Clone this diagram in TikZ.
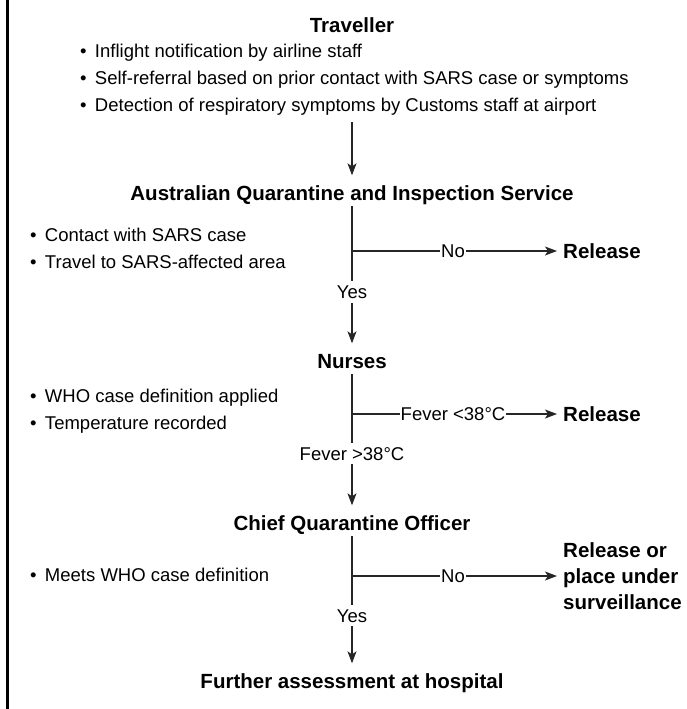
\documentclass[tikz,border=0pt]{standalone}
\usepackage{fontspec}
\setmainfont{Liberation Sans}
\usepackage{tikz}
\usetikzlibrary{arrows.meta}
\usetikzlibrary{positioning}

\newcommand{\blt}{\textbullet\hspace{0.45em}}

\begin{document}
\begin{tikzpicture}[x=1pt,y=-1pt,every path/.style={>={Stealth[length=12pt,width=9pt,inset=3pt]}},
		title/.style={font=\bfseries\fontsize{20.5}{24}\selectfont,inner xsep=0pt,inner ysep=0pt,text height=14.5pt,text depth=4pt},
		list/.style={font=\fontsize{18.5}{27}\selectfont,align=left,inner sep=0pt,anchor=west},
		lab/.style={font=\fontsize{18.5}{22}\selectfont,inner xsep=1pt,inner ysep=4pt,text height=13pt,text depth=0pt},
		outcome/.style={font=\bfseries\fontsize{20.5}{26}\selectfont,align=left,inner xsep=6pt,inner ysep=0pt,anchor=west},
		flow/.style={line width=1.1pt,draw=black!85}]
		\useasboundingbox (0,0) rectangle (686,709);
		
		% frame line on the left
		\draw[line width=2.4pt] (7.3,0) -- (7.3,709);
		
		% traveller
		\node[title] (trav) at (352,27.75) {Traveller};
		\node[list] (travlist) at (80,80) {\blt Inflight notification by airline staff\\
			\blt Self-referral based on prior contact with SARS case or symptoms\\
			\blt Detection of respiratory symptoms by Customs staff at airport};
		
		% quarantine service
		\node[title] (aqis) at (352,194.75) {Australian Quarantine and Inspection Service};
		\node[list] (aqislist) at (30,248.5) {\blt Contact with SARS case\\ \blt Travel to SARS-affected area};
		\coordinate (aqisfork) at (352,251);
		\node[lab] (aqisno) at (453,251) {No};
		\node[outcome] (rel1) at (557,251) {Release};
		\node[lab] (aqisyes) at (352,292) {Yes};
		
		% nurses
		\node[title] (nurses) at (352,362.75) {Nurses};
		\node[list] (nurselist) at (30,411.5) {\blt WHO case definition applied\\ \blt Temperature recorded};
		\coordinate (nursefork) at (352,414);
		\node[lab] (feverlo) at (453,414) {Fever <38°C};
		\node[outcome] (rel2) at (557,414) {Release};
		\node[lab] (feverhi) at (352,453.5) {Fever >38°C};
		
		% chief quarantine officer
		\node[title] (chief) at (352,524.75) {Chief Quarantine Officer};
		\node[list] (chieflist) at (30,575) {\blt Meets WHO case definition};
		\coordinate (chieffork) at (352,576);
		\node[lab] (chiefno) at (453,576) {No};
		\node[outcome] (rel3) at (557,576) {Release or\\place under\\surveillance};
		\node[lab] (chiefyes) at (352,615.5) {Yes};
		
		% hospital
		\node[title] (hosp) at (352,682.75) {Further assessment at hospital};
		
		% draw the main line
		\draw[flow,->,shorten <=6pt,shorten >=10pt] (trav |- travlist.south) -- (aqis);
		\draw[flow,shorten <=2pt] (aqis) -- (aqisyes);
		\draw[flow,->,shorten >=10pt] (aqisyes) -- (nurses);
		\draw[flow,shorten <=2pt] (nurses) -- (feverhi);
		\draw[flow,->,shorten >=10pt] (feverhi) -- (chief);
		\draw[flow,shorten <=2pt] (chief) -- (chiefyes);
		\draw[flow,->,shorten >=10pt] (chiefyes) -- (hosp);
		
		% draw the side branches
		\draw[flow] (aqisfork) -- (aqisno);
		\draw[flow,->] (aqisno) -- (rel1);
		\draw[flow] (nursefork) -- (feverlo);
		\draw[flow,->] (feverlo) -- (rel2);
		\draw[flow] (chieffork) -- (chiefno);
		\draw[flow,->] (chiefno) -- (rel3);
	\end{tikzpicture}
\end{document}
